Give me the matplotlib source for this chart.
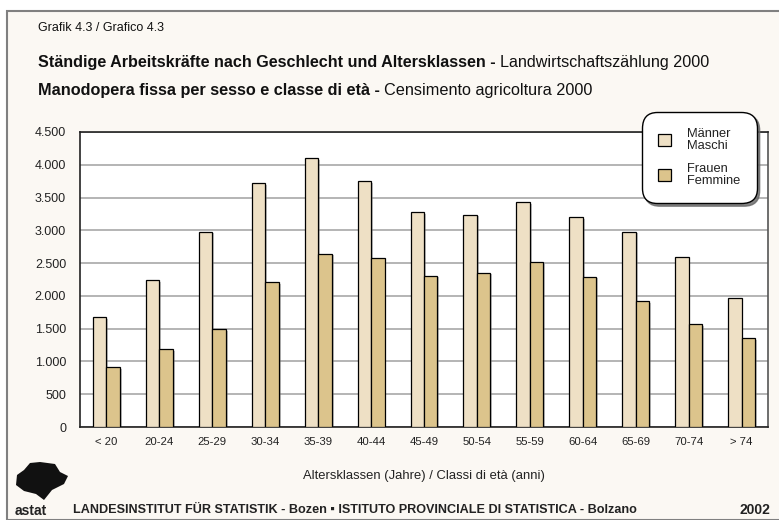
import matplotlib.pyplot as plt
import numpy as np
from matplotlib.patches import Rectangle, Polygon
from matplotlib.ticker import FuncFormatter
from matplotlib import font_manager

plt.rcParams['font.family'] = ['Liberation Sans', 'DejaVu Sans']

age_classes = ["< 20", "20-24", "25-29", "30-34", "35-39", "40-44", "45-49",
               "50-54", "55-59", "60-64", "65-69", "70-74", "> 74"]
men = [1680, 2240, 2980, 3720, 4100, 3750, 3280, 3240, 3430, 3200, 2980, 2590, 1965]
women = [912, 1187, 1493, 2211, 2644, 2580, 2307, 2353, 2516, 2292, 1920, 1569, 1355]
series_labels = ["Männer\nMaschi", "Frauen\nFemmine"]
yticks = [0, 500, 1000, 1500, 2000, 2500, 3000, 3500, 4000, 4500]

MEN_COLOR = "#EEE0C5"
WOMEN_COLOR = "#DCC48C"
BG = "#FBF8F3"

names = {f.name for f in font_manager.fontManager.ttflist}
NARROW = ["Liberation Sans Narrow"] if "Liberation Sans Narrow" in names else ["Liberation Sans"]

W, H = 779, 520
fig = plt.figure(figsize=(W / 100, H / 100), dpi=100)
fig.patch.set_facecolor("white")

# outer frame
fig.patches.append(Rectangle((7 / W, 0), 1, 1 - 11 / H, transform=fig.transFigure,
                             facecolor=BG, edgecolor="#808080", lw=1.5, zorder=-5))

ax = fig.add_axes([80 / W, 1 - 427 / H, (768 - 80) / W, (427 - 132) / H])
ax.set_facecolor("white")

x = np.arange(len(age_classes))
bw = 0.255
for xs, vals in ((x - bw / 2, men), (x + bw / 2, women)):
    ax.bar(xs + 0.035, vals, bw, bottom=-25, color="#777777", alpha=0.45, zorder=2)
ax.bar(x - bw / 2, men, bw, color=MEN_COLOR, edgecolor="black", lw=0.9,
       label=series_labels[0], zorder=3)
ax.bar(x + bw / 2, women, bw, color=WOMEN_COLOR, edgecolor="black", lw=0.9,
       label=series_labels[1], zorder=3)

ax.set_xlim(-0.5, len(age_classes) - 0.5)
ax.set_ylim(0, 4500)
ax.set_yticks(yticks)
ax.yaxis.set_major_formatter(FuncFormatter(lambda v, p: f"{int(v):,}".replace(",", ".")))
ax.set_xticks(x)
ax.set_xticklabels(age_classes)
ax.tick_params(axis="both", length=0, colors="#222222")
ax.tick_params(axis="x", pad=7, labelsize=8.2)
ax.tick_params(axis="y", pad=10, labelsize=9)
ax.grid(axis="y", color="#A8A8A8", lw=1.2, zorder=1)
ax.set_axisbelow(True)
for s in ax.spines.values():
    s.set_color("#222222")
    s.set_linewidth(1.2)
ax.spines["right"].set_color("#555555")

leg = ax.legend(loc="upper right", bbox_to_anchor=(753 / W, 1 - 116 / H),
                bbox_transform=fig.transFigure, fontsize=9.3, frameon=True,
                fancybox=True, shadow={"color": "#666666", "alpha": 0.8},
                edgecolor="black", framealpha=1, handlelength=1.05, handleheight=1.05,
                labelspacing=0.85, borderpad=0.95, handletextpad=1.25, borderaxespad=0)
leg.get_frame().set_linewidth(1.0)
leg.get_frame().set_boxstyle("round,pad=0.3,rounding_size=1.2")
leg.set_zorder(10)
for t in leg.get_texts():
    t.set_linespacing(1.0)
    t.set_color("#222222")

renderer = fig.canvas.get_renderer()


def text_run(x0, y0, parts, size):
    xp = x0
    for s, weight in parts:
        t = fig.text(xp / W, 1 - y0 / H, s, fontsize=size, fontweight=weight,
                     family=NARROW, va="center", color="#111111")
        xp += t.get_window_extent(renderer).width


fig.text(38 / W, 1 - 28 / H, "Grafik 4.3 / Grafico 4.3", fontsize=9,
         family=NARROW, va="center", color="#111111")
text_run(38, 62, [("Ständige Arbeitskräfte nach Geschlecht und Altersklassen - ", "bold"),
                  ("Landwirtschaftszählung 2000", "normal")], 11.6)
text_run(38, 90, [("Manodopera fissa per sesso e classe di età - ", "bold"),
                  ("Censimento agricoltura 2000", "normal")], 11.7)

fig.text(424 / W, 1 - 476 / H, "Altersklassen (Jahre) / Classi di età (anni)",
         fontsize=9.4, family=NARROW, ha="center", va="center", color="#222222")

fig.text(15 / W, 1 - 511 / H, "astat", fontsize=10, fontweight="bold", va="center",
         color="#222222")
fig.text(73 / W, 1 - 510 / H,
         "LANDESINSTITUT FÜR STATISTIK - Bozen ▪ ISTITUTO PROVINCIALE DI STATISTICA - Bolzano",
         fontsize=9.1, fontweight="bold", va="center", color="#222222")
fig.text(770 / W, 1 - 510 / H, "2002", fontsize=10, fontweight="bold", ha="right",
         va="center", color="#222222")

# rough logo blob
blob = [(17, 475), (24, 470), (30, 463), (40, 462), (55, 464), (60, 472), (68, 476),
        (64, 484), (52, 490), (44, 500), (36, 494), (24, 491), (16, 485)]
fig.patches.append(Polygon([(px / W, 1 - py / H) for px, py in blob], closed=True,
                           transform=fig.transFigure, facecolor="#111111",
                           edgecolor="none", zorder=5))

fig.savefig("out.png", dpi=100, facecolor=fig.get_facecolor())
